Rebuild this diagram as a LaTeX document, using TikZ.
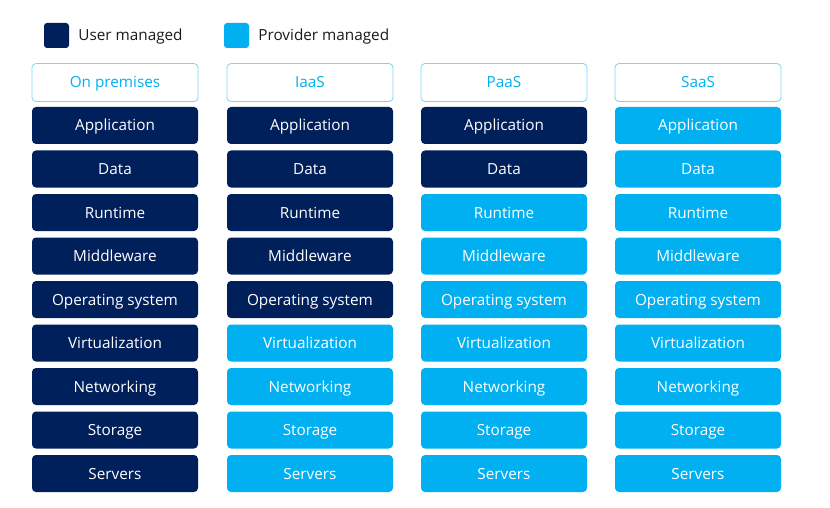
\documentclass[tikz,border=0pt]{standalone}
\usepackage{fontspec}
\setmainfont{Open Sans}
\usetikzlibrary{positioning}
\definecolor{usercol}{HTML}{00205B}
\definecolor{provcol}{HTML}{00B0F0}
\definecolor{headline}{HTML}{7FD4F7}
\definecolor{legendtext}{HTML}{1A1A1A}
\tikzset{
    base/.style={rectangle, rounded corners=4pt, minimum width=166pt, minimum height=37pt, inner sep=0pt, text height=11pt, text depth=0pt, font=\fontsize{15.3}{17}\selectfont},
    header/.style={base, draw=headline, line width=0.8pt, fill=white, text=provcol, minimum height=38pt},
    layer/.style={base, fill=layerfill, text=white},
    keybox/.style={rectangle, rounded corners=3pt, minimum size=25pt, inner sep=0pt},
    keytext/.style={inner sep=0pt, text height=11pt, text depth=0pt, text=legendtext, font=\fontsize{15.3}{17}\selectfont}
}

\begin{document}
\begin{tikzpicture}[x=1pt, y=-1pt, node distance=9pt]
    \useasboundingbox (0,0) rectangle (830,508);

    % legend
    \node (userkey) [keybox, fill=usercol] at (56.5,35.5) {};
    \node (usertext) [keytext, right=of userkey] {User managed};
    \node (provkey) [keybox, fill=provcol] at (236.5,35.5) {};
    \node (provtext) [keytext, right=of provkey] {Provider managed};

    % stacks
    \foreach \colname/\cx/\head/\nuser in {onprem/115/On premises/9, iaas/310/IaaS/5, paas/504/PaaS/2, saas/698/SaaS/0} {
        \node (\colname-head) [header] at (\cx,82.5) {\head};
        \foreach \layer [count=\i] in {Application, Data, Runtime, Middleware, Operating system, Virtualization, Networking, Storage, Servers} {
            \ifnum\i>\nuser \colorlet{layerfill}{provcol}\else\colorlet{layerfill}{usercol}\fi
            \node (\colname-\i) [layer] at (\cx,82+43.5*\i) {\layer};
        }
    }
\end{tikzpicture}
\end{document}
